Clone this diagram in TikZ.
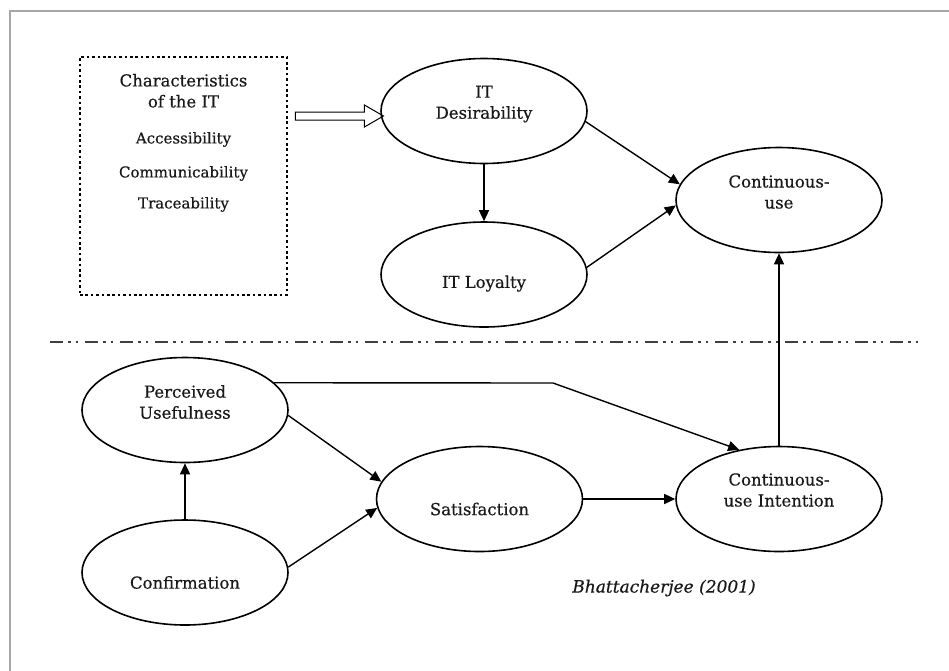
\documentclass[tikz,border=0pt]{standalone}
\usepackage{fontspec}
\setmainfont{DejaVu Serif}[FakeBold=0.5]
\usetikzlibrary{shapes.geometric,shapes.arrows,arrows.meta}

\begin{document}
\begin{tikzpicture}[x=1pt,y=-1pt,
	every node/.style={font=\fontsize{16.5}{21}\selectfont, text=black!90},
	oval/.style={draw, ellipse, line width=1.6pt, minimum width=206pt, minimum height=105pt, inner sep=0pt},
	lbl/.style={align=center, inner sep=0pt},
	conn/.style={line width=1.4pt, -{Triangle[length=11pt,width=10pt]}}]
	\useasboundingbox (0,0) rectangle (949,670);
	\draw[gray!70, line width=2.5pt] (10,680) -- (10,11) -- (960,11);
	\node[draw, line width=2.6pt, dash pattern=on 2.6pt off 2.8pt, minimum width=207pt, minimum height=238pt] (chars) at (183.5,176) {};
	\node[lbl, anchor=north] (charstext) at ([yshift=-18pt]chars.north) {Characteristics\\of the IT\\[15pt]
		{\fontsize{15}{18}\selectfont Accessibility}\\[13pt]
		{\fontsize{15}{18}\selectfont Communicability}\\[10pt]
		{\fontsize{15}{18}\selectfont Traceability}};
	\node[single arrow, draw, line width=1pt, inner sep=3.5pt, single arrow head extend=7pt, single arrow tip angle=60, minimum height=88pt] (hollow) at (336,116) {};
	\node[oval, label={[lbl,yshift=7pt]center:IT\\Desirability}] (des) at (484,111) {};
	\node[oval, label={[lbl,yshift=-9pt]center:IT Loyalty}] (loy) at (484,274.5) {};
	\node[oval, label={[lbl,yshift=8pt]center:Continuous-\\use}] (cu) at (779,200) {};
	\draw[gray!50!black, line width=2.4pt, dash pattern=on 13pt off 5pt on 2.5pt off 5pt on 2.5pt off 7pt] (50,342) -- (923,342);
	\node[oval, label={[lbl,yshift=8pt]center:Perceived\\Usefulness}] (pu) at (185,410) {};
	\node[oval, label={[lbl,yshift=-10pt]center:Confirmation}] (conf) at (185,572.5) {};
	\node[oval, label={[lbl,yshift=-10pt]center:Satisfaction}] (sat) at (479.5,499) {};
	\node[oval, label={[lbl,yshift=9pt]center:Continuous-\\use Intention}] (ci) at (779,499) {};
	\node[font=\itshape\fontsize{17}{20}\selectfont] (src) at (664,588) {Bhattacherjee (2001)};
	\coordinate (kink) at (553,383);
	\draw[conn] (des) -- (loy);
	\draw[conn] (des.-6) -- (cu.171);
	\draw[conn] (loy.4) -- (cu.183);
	\draw[conn] (conf) -- (pu);
	\draw[conn] (pu.-3) -- (sat.170);
	\draw[conn] (conf.3) -- (sat.185);
	\draw[conn] (sat) -- (ci);
	\draw[conn] (pu.17) -- (kink) -- (ci.129);
	\draw[conn] (ci) -- (cu);
\end{tikzpicture}
\end{document}
